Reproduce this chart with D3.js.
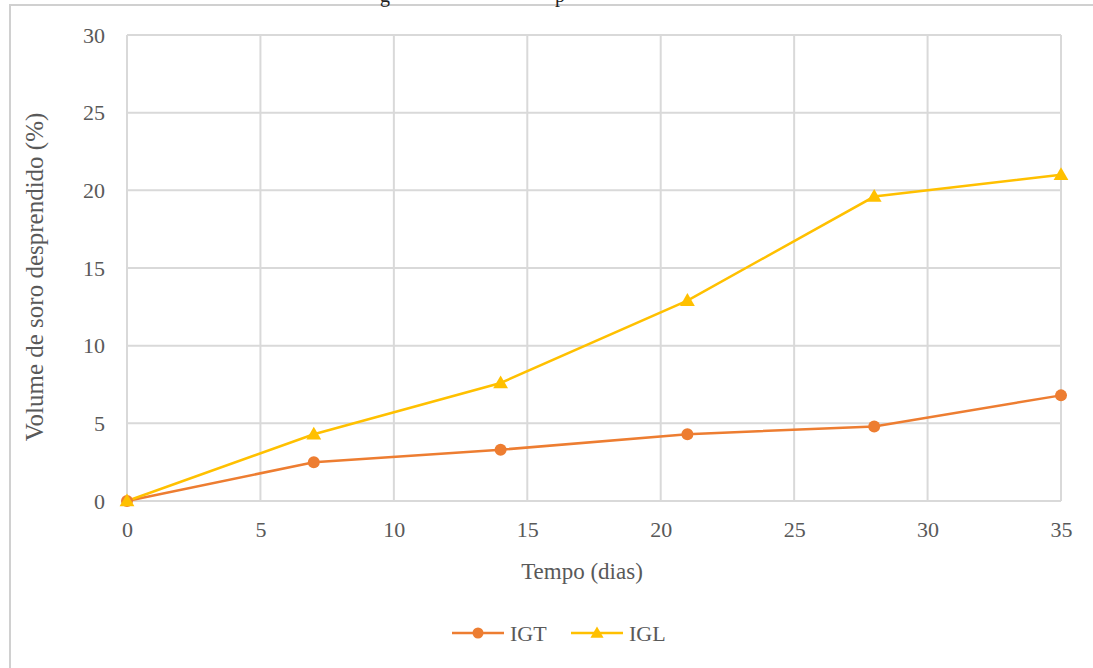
<!DOCTYPE html>
<html>
<head>
<meta charset="utf-8">
<script src="https://cdn.jsdelivr.net/npm/d3@7"></script>
<style>
  body { margin: 0; background: white; }
  text { font-family: "Liberation Serif", "Times New Roman", serif; }
</style>
</head>
<body>
<svg id="chart" width="1093" height="668"></svg>
<script>
// data
const dias = [0, 7, 14, 21, 28, 35];
const igt = [0, 2.5, 3.3, 4.3, 4.8, 6.8];
const igl = [0, 4.3, 7.6, 12.9, 19.6, 21.0];
const x_ticks = [0, 5, 10, 15, 20, 25, 30, 35];
const y_ticks = [0, 5, 10, 15, 20, 25, 30];
const series_names = ["IGT", "IGL"];

let svg = d3.select("#chart");
let text_color = "#595959";
let grid_color = "#d9d9d9";

// outer frame, cut by the page edge
svg.append("rect")
    .attr("x", 10).attr("y", 5)
    .attr("width", 1100).attr("height", 700)
    .attr("fill", "none")
    .attr("stroke", "#d0d0d0")
    .attr("stroke-width", 2);

// bits of the caption above, only the descenders are on the page
svg.append("text").attr("x", 380).attr("y", 2).attr("font-size", 20).attr("fill", "#222").text("g");
svg.append("text").attr("x", 555).attr("y", 2).attr("font-size", 20).attr("fill", "#222").text("p");

let x = d3.scaleLinear().domain([0, 35]).range([127, 1061]);
let y = d3.scaleLinear().domain([0, 30]).range([501, 35]);

// grid
svg.append("g")
    .selectAll("line").data(y_ticks).enter().append("line")
    .attr("x1", x(0)).attr("x2", x(35))
    .attr("y1", d => y(d)).attr("y2", d => y(d))
    .attr("stroke", grid_color).attr("stroke-width", 2);

svg.append("g")
    .selectAll("line").data(x_ticks).enter().append("line")
    .attr("x1", d => x(d)).attr("x2", d => x(d))
    .attr("y1", y(0)).attr("y2", y(30))
    .attr("stroke", grid_color).attr("stroke-width", 2);

// tick labels through d3 axes, lines hidden
let x_axis = svg.append("g")
    .attr("transform", "translate(0," + y(0) + ")")
    .call(d3.axisBottom(x).tickValues(x_ticks).tickSize(0).tickPadding(20));
let y_axis = svg.append("g")
    .attr("transform", "translate(" + x(0) + ",0)")
    .call(d3.axisLeft(y).tickValues(y_ticks).tickSize(0).tickPadding(22));

[x_axis, y_axis].forEach(a => {
    a.select(".domain").remove();
    a.selectAll("text")
        .attr("fill", text_color)
        .style("font-family", "'Liberation Serif', serif")
        .style("font-size", "22px");
});

// axis titles
svg.append("text")
    .attr("x", 582).attr("y", 579)
    .attr("text-anchor", "middle")
    .attr("font-size", 23)
    .attr("fill", text_color)
    .text("Tempo (dias)");

svg.append("text")
    .attr("transform", "translate(43,277) rotate(-90)")
    .attr("text-anchor", "middle")
    .attr("font-size", 25)
    .attr("fill", text_color)
    .text("Volume de soro desprendido (%)");

// series
let colors = ["#ED7D31", "#FFC000"];
let all_values = [igt, igl];

let line = d3.line()
    .x((d, i) => x(dias[i]))
    .y(d => y(d));

let triangle = d3.symbol().type(d3.symbolTriangle).size(95);
let small_triangle = d3.symbol().type(d3.symbolTriangle).size(75);

all_values.forEach((vals, s) => {
    svg.append("path")
        .datum(vals)
        .attr("d", line)
        .attr("fill", "none")
        .attr("stroke", colors[s])
        .attr("stroke-width", 2.5);
});

// IGT circles first, IGL triangles on top
svg.append("g").selectAll("circle").data(igt).enter().append("circle")
    .attr("cx", (d, i) => x(dias[i]))
    .attr("cy", d => y(d))
    .attr("r", 6)
    .attr("fill", colors[0]);

svg.append("g").selectAll("path").data(igl).enter().append("path")
    .attr("d", triangle)
    .attr("transform", (d, i) => "translate(" + x(dias[i]) + "," + (y(d) + 1) + ")")
    .attr("fill", colors[1]);

// legend
let legend_x = [452, 571];
series_names.forEach((name, s) => {
    let g = svg.append("g").attr("transform", "translate(" + legend_x[s] + ",633)");
    g.append("line")
        .attr("x1", 0).attr("x2", 52)
        .attr("y1", 0).attr("y2", 0)
        .attr("stroke", colors[s]).attr("stroke-width", 2.5);
    if (s === 0) {
        g.append("circle").attr("cx", 26).attr("cy", 0).attr("r", 5.5).attr("fill", colors[s]);
    } else {
        g.append("path").attr("d", small_triangle).attr("transform", "translate(26,1)").attr("fill", colors[s]);
    }
    g.append("text")
        .attr("x", 58).attr("y", 8)
        .attr("font-size", 22)
        .attr("fill", text_color)
        .text(name);
});
</script>
</body>
</html>
